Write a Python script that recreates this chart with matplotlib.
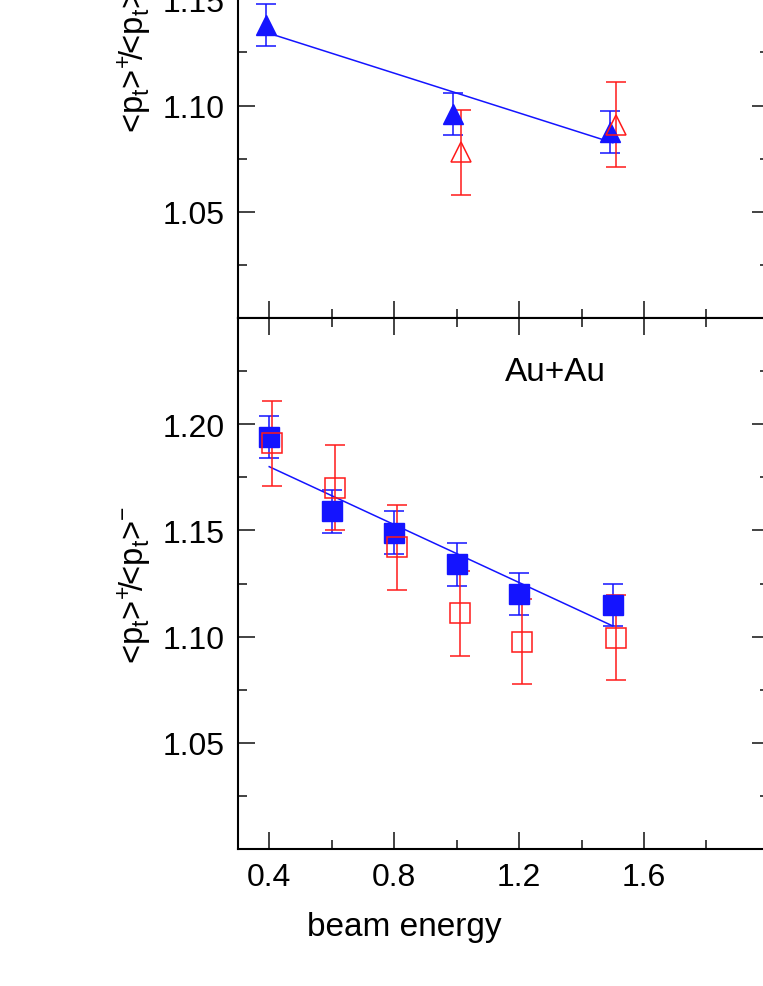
import matplotlib
matplotlib.use('Agg')
from matplotlib import pyplot as plt
from matplotlib.ticker import FixedLocator, FormatStrFormatter

plt.rcParams['font.family'] = ['Liberation Sans', 'DejaVu Sans']
plt.rcParams['mathtext.default'] = 'regular'

BLUE = '#1414ff'
RED = '#ff1a1a'

# upper panel (only the lower part is visible)
energy_top_blue = [0.39, 0.99, 1.49]
ratio_top_blue = [1.138, 1.096, 1.0875]
err_top_blue = [0.010, 0.010, 0.010]
energy_top_red = [1.015, 1.51]
ratio_top_red = [1.078, 1.091]
err_top_red = [0.020, 0.020]
fit_top = [1.134, 1.0825]

# Au+Au panel
energy_blue = [0.40, 0.60, 0.80, 1.00, 1.20, 1.50]
ratio_blue = [1.194, 1.159, 1.149, 1.134, 1.120, 1.115]
err_blue = [0.010, 0.010, 0.010, 0.010, 0.010, 0.010]
energy_red = [0.41, 0.61, 0.81, 1.01, 1.21, 1.51]
ratio_red = [1.191, 1.170, 1.142, 1.111, 1.0975, 1.0995]
err_red = [0.020, 0.020, 0.020, 0.020, 0.020, 0.020]
fit_bottom = [1.180, 1.105]

fit_x = [0.40, 1.50]

x_major = [0.4, 0.8, 1.2, 1.6]
x_minor = [0.6, 1.0, 1.4, 1.8]
y_major = [1.05, 1.10, 1.15, 1.20]
y_minor = [1.025, 1.075, 1.125, 1.175, 1.225]

ylabel = r'<p$_t$>$^{+}\!$/<p$_t$>$^{-}$'


def style_axis(ax):
    ax.set_xlim(0.3, 2.0)
    ax.set_ylim(1.0, 1.25)
    ax.xaxis.set_major_locator(FixedLocator(x_major))
    ax.xaxis.set_minor_locator(FixedLocator(x_minor))
    ax.yaxis.set_major_locator(FixedLocator(y_major))
    ax.yaxis.set_minor_locator(FixedLocator(y_minor))
    ax.xaxis.set_major_formatter(FormatStrFormatter('%.1f'))
    ax.yaxis.set_major_formatter(FormatStrFormatter('%.2f'))
    ax.tick_params(which='both', direction='in', top=True, right=True,
                   width=1.2, labelsize=23, pad=9.5, color='#222222')
    ax.tick_params(which='major', length=12.5)
    ax.tick_params(which='minor', length=6.5)
    for sp in ax.spines.values():
        sp.set_linewidth(1.5)
    ax.set_ylabel(ylabel, fontsize=23.5)
    ax.yaxis.set_label_coords(-0.158, 0.5)


def plot_panel(ax, xb, yb, eb, xr, yr, er, fit_y, marker):
    ax.errorbar(xb, yb, yerr=eb, fmt=marker, color=BLUE, ms=14, mec=BLUE,
                capsize=7.5, elinewidth=1.1, capthick=1.1)
    ax.plot(fit_x, fit_y, color=BLUE, lw=1.1)
    ax.errorbar(xr, yr, yerr=er, fmt=marker, color=RED, ms=14, mfc='none',
                mec=RED, mew=1.1, capsize=7.5, elinewidth=1.1, capthick=1.1)


def main():
    fig = plt.figure(figsize=(7.63, 9.87), dpi=100)
    ax_top = fig.add_axes([0.3119, 0.6768, 0.6959, 0.538])
    ax_bot = fig.add_axes([0.3119, 0.1388, 0.6959, 0.538])

    style_axis(ax_top)
    style_axis(ax_bot)
    ax_top.tick_params(labelbottom=False)

    plot_panel(ax_top, energy_top_blue, ratio_top_blue, err_top_blue,
               energy_top_red, ratio_top_red, err_top_red, fit_top, '^')
    plot_panel(ax_bot, energy_blue, ratio_blue, err_blue,
               energy_red, ratio_red, err_red, fit_bottom, 's')

    ax_bot.text(1.315, 1.2246, 'Au+Au', fontsize=24, ha='center', va='center')
    ax_bot.set_xlabel('beam energy', fontsize=24)
    ax_bot.xaxis.set_label_coords(0.3126, -0.117)

    plt.savefig('out.png', dpi=100)


if __name__ == "__main__":
    main()
